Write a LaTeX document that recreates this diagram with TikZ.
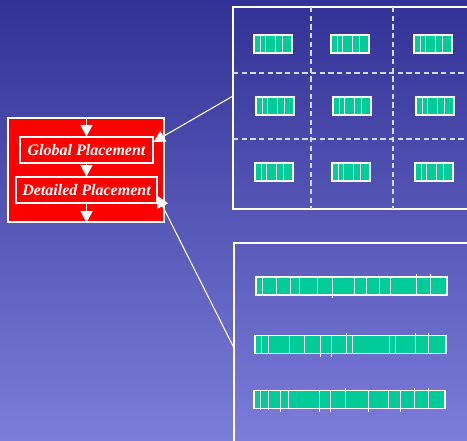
\documentclass[tikz,border=0pt]{standalone}
\usepackage{fontspec}
\setmainfont{Liberation Serif}
\usetikzlibrary{arrows.meta,calc}

\definecolor{bgtop}{RGB}{50,50,150}
\definecolor{bgbot}{RGB}{124,124,218}
\definecolor{cellgreen}{RGB}{0,204,153}

\begin{document}
\begin{tikzpicture}[x=0.75pt,y=-0.75pt,
    stage/.style={rectangle,draw=white,line width=0.8pt,text=white,inner sep=0pt,
        font=\fontsize{12}{14}\selectfont\bfseries\itshape,minimum height=19.5pt},
    region/.style={rectangle,draw=white,line width=0.8pt},
    cell/.style={rectangle,draw=white,fill=cellgreen,line width=0.8pt,inner sep=0pt,minimum height=13.5pt},
    split/.style={white,line width=0.7pt},
    flow/.style={white,line width=0.8pt,-{Triangle[width=9pt,length=8.5pt]}},
    cut/.style={white!85!blue,line width=0.8pt,dash pattern=on 4pt off 2.5pt}]

    \shade[top color=bgtop,bottom color=bgbot] (0,0) rectangle (467,441);
    \useasboundingbox (0,0) rectangle (467,441);

    % placement flow
    \node[region,fill=red,minimum width=117pt,minimum height=78pt] (flowbox) at (86,170) {};
    \node[stage,minimum width=99.75pt] (gp) at (86.5,150) {Global Placement};
    \node[stage,minimum width=105.75pt] (dp) at (86.5,190) {Detailed Placement};
    \draw[flow] (gp |- flowbox.north) -- (gp.north);
    \draw[flow] (gp.south) -- (dp.north);
    \draw[flow] (dp.south) -- (dp |- flowbox.south);

    % global view: bins
    \node[region,minimum width=181.5pt,minimum height=151.5pt] (grid) at (354,108) {};
    \draw[cut] (311,7) -- (311,209);
    \draw[cut] (393,7) -- (393,209);
    \draw[cut] (233,73) -- (470,73);
    \draw[cut] (233,139) -- (470,139);
    \foreach \x/\y in {273/44,350/44,433/44,275/106,352/106,435/106,274/172,351/172,434/172} {
        \node[cell,minimum width=28.5pt] (bin) at (\x,\y) {};
        \foreach \d in {-12.3,-8,2.7,9.7}
            \draw[split] ({\x+\d},{\y-9}) -- ({\x+\d},{\y+9});
    }

    % detailed view: rows
    \node[region,minimum width=180.75pt,minimum height=155.25pt] (rows) at (354.5,346.5) {};
    \node[cell,minimum width=143.25pt] (row1) at (351.5,286) {};
    \node[cell,minimum width=143.25pt] (row2) at (350.5,344.5) {};
    \node[cell,minimum width=143.25pt] (row3) at (349.5,399.5) {};
    \foreach \x/\a/\b in {262.3/0/0,276/0/0,290/0/0,299/0/0,317.3/0/0,332.3/0/3,354/0/0,
            366.7/0/0,379/0/0,390.7/0/0,416/3/0,430.3/3/0}
        \draw[split] (\x,{277-\a}) -- (\x,{295+\b});
    \foreach \x/\a/\b in {261/0/0,268.7/0/0,289.3/0/0,304/0/0,320/0/3,331/0/3,346.7/3/0,
            352/0/0,389.3/0/0,395.3/0/0,415.3/3/0,428.7/3/0}
        \draw[split] (\x,{335.5-\a}) -- (\x,{353.5+\b});
    \foreach \x/\a/\b in {260/0/1,268.3/0/1,280.7/0/3,288.3/0/0,319.3/0/3,330.3/0/3,345.3/3/0,
            368/0/3,388/0/0,400.3/0/3,414.3/3/0,428.3/3/0}
        \draw[split] (\x,{390.5-\a}) -- (\x,{408.5+\b});

    % zoom connectors
    \coordinate (gridend) at (233,96);
    \coordinate (rowsend) at (234,348);
    \draw[flow] (gridend) -- ([yshift=6pt]gp.east);
    \draw[flow] (rowsend) -- ([yshift=-4.5pt]dp.east);
\end{tikzpicture}
\end{document}
